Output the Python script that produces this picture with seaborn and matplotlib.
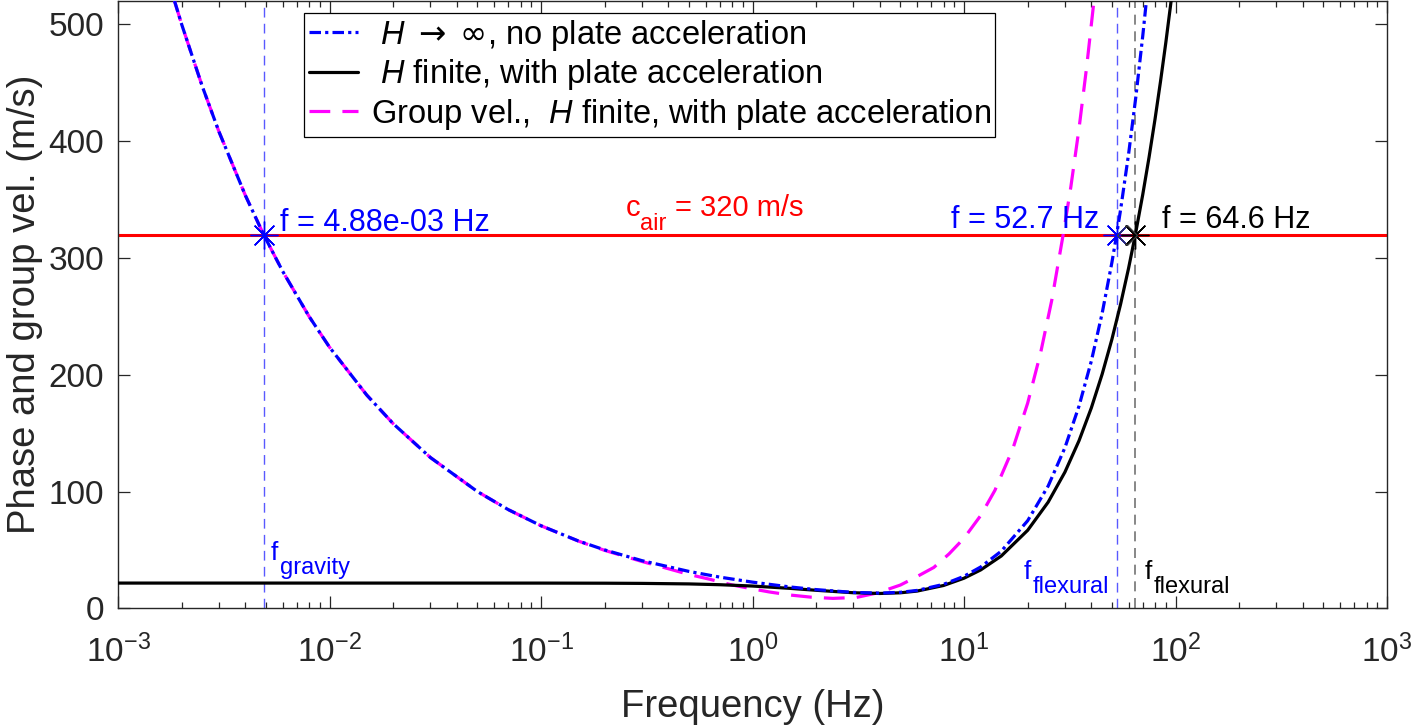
import matplotlib
matplotlib.use('Agg')
import matplotlib.pyplot as plt
import matplotlib.ticker as mticker
from matplotlib.lines import Line2D
import seaborn as sns

###############
# data
###############

# H -> inf, no plate acceleration (phase velocity, m/s)
f_blue = [0.00185, 0.002, 0.0025, 0.003, 0.004, 0.00488, 0.006, 0.008, 0.01, 0.015,
          0.02, 0.03, 0.05, 0.07, 0.1, 0.15, 0.2, 0.3, 0.5, 0.7,
          1, 1.5, 2, 3, 4, 5, 6, 8, 10, 12,
          15, 20, 25, 30, 35, 40, 45, 50, 52.7, 55,
          60, 65, 70, 73]
v_blue = [520, 500, 447.2, 408.2, 353.6, 320, 288.7, 250, 223.6, 182.6,
          158.1, 129.1, 100, 84.5, 70.7, 57.7, 50, 40.8, 31.6, 26.7,
          22.4, 18.3, 16.0, 13.6, 13.0, 13.7, 15.3, 20.5, 27.4, 35.4,
          48.9, 75, 104.7, 137.5, 173.3, 211.7, 252.6, 295.8, 320, 341.3,
          388.9, 438.5, 490.0, 521.8]

# H finite, with plate acceleration
f_black = [0.001, 0.01, 0.1, 0.2, 0.3, 0.5, 0.7, 1, 1.5, 2,
           3, 4, 5, 6, 8, 10, 12, 15, 20, 25,
           30, 35, 40, 45, 50, 55, 60, 64.6, 70, 75,
           80, 85, 90, 96]
v_black = [21.6, 21.6, 21.58, 21.49, 21.33, 20.88, 20.2, 19.06, 17.09, 15.42,
           13.32, 12.70, 13.27, 14.75, 19.52, 25.76, 32.89, 44.76, 66.79, 90.9,
           116.6, 143.6, 171.6, 200.5, 230.1, 260.4, 291.2, 320.0, 354.2, 386.3,
           418.7, 451.5, 484.4, 524.3]

# group velocity, H finite, with plate acceleration
f_group = [0.00185, 0.002, 0.0025, 0.003, 0.004, 0.00488, 0.006, 0.008, 0.01, 0.015,
           0.02, 0.03, 0.05, 0.07, 0.1, 0.15, 0.2, 0.3, 0.4, 0.5,
           0.63, 0.8, 1.0, 1.2, 1.5, 1.9, 2.4, 3.1, 3.9, 5.0,
           6.0, 7.2, 8.5, 10, 12, 14, 17, 20, 23, 26,
           29.44, 32, 35, 38, 41.5]
v_group = [520, 500, 447.2, 408.2, 353.6, 320, 288.7, 250, 223.6, 182.6,
           158.1, 129.1, 100, 84.5, 70.7, 57.6, 49.6, 40.1, 33.9, 29.0,
           24.8, 20.0, 16.6, 14.0, 11.4, 9.5, 8.5, 9.3, 13.2, 19.9,
           27.2, 35.0, 46.6, 60.0, 79.5, 101, 136.4, 175.7, 218.3, 263.8,
           320, 360.8, 411.1, 463.4, 526]

c_air = 320
f_gravity = 4.88e-3
f_flex_inf = 52.7
f_flex_fin = 64.6
f_between = 58.7

x_ticks = [1e-3, 1e-2, 1e-1, 1e0, 1e1, 1e2, 1e3]
y_ticks = [0, 100, 200, 300, 400, 500]

legend_labels = [r' $\mathit{H}\ \mathsf{\rightarrow}\ \mathsf{\infty}$, no plate acceleration',
                 r' $\mathit{H}$ finite, with plate acceleration',
                 r'Group vel.,  $\mathit{H}$ finite, with plate acceleration']

###############
# style
###############
sns.set_theme(style='ticks')
plt.rcParams['font.family'] = ['Liberation Sans', 'DejaVu Sans']
plt.rcParams['mathtext.fontset'] = 'custom'
plt.rcParams['mathtext.rm'] = 'Liberation Sans'
plt.rcParams['mathtext.it'] = 'Liberation Sans:italic'
plt.rcParams['mathtext.bf'] = 'Liberation Sans:bold'
plt.rcParams['mathtext.sf'] = 'DejaVu Sans'
dark = (0.15, 0.15, 0.15)

lw_curve = 2.3
blue_ls = (0, (3.6, 1.3, 1.0, 1.3))
mag_ls = (0, (6.5, 3.8))


def sub_text(ax, x, y, main, sub, color, main_size=19, sub_size=17, dx=6.5, dy=-10):
    # MATLAB style subscript: nearly full size, dropped below the baseline
    ax.text(x, y, main, color=color, fontsize=main_size, va='baseline')
    ax.annotate(sub, (x, y), xytext=(dx, dy), textcoords='offset points',
                color=color, fontsize=sub_size, va='baseline')


fig = plt.figure(figsize=(14.15, 7.28), dpi=100)
ax = fig.add_axes([118 / 1415, (728 - 608.3) / 728, 1269 / 1415, 607.3 / 728])

# reference lines
ax.axhline(c_air, color='red', lw=2.2, zorder=1)
ax.axvline(f_gravity, color=(0.35, 0.35, 1.0), lw=1, ls=(0, (7, 4.5)), zorder=1)
ax.axvline(f_flex_inf, color=(0.35, 0.35, 1.0), lw=1, ls=(0, (7, 4.5)), zorder=1)
ax.axvline(f_flex_fin, color=(0.45, 0.45, 0.45), lw=1.2, ls=(0, (6, 4)), zorder=1)

# curves
sns.lineplot(x=f_group, y=v_group, ax=ax, color='magenta', lw=lw_curve, linestyle=mag_ls,
             errorbar=None, zorder=3)
sns.lineplot(x=f_black, y=v_black, ax=ax, color='black', lw=lw_curve, errorbar=None, zorder=4)
sns.lineplot(x=f_blue, y=v_blue, ax=ax, color='blue', lw=lw_curve, linestyle=blue_ls,
             errorbar=None, zorder=5)

# crossing markers
star = (8, 2, 0)
ax.plot([f_gravity, f_flex_inf], [c_air, c_air], ls='none', marker=star, ms=20,
        mew=1, color='blue', zorder=6)
ax.plot([f_flex_fin], [c_air], ls='none', marker=star, ms=20, mew=1, color='black', zorder=6)
ax.plot([f_between], [c_air], ls='none', marker='D', ms=10, mew=0.9, mfc='none',
        mec=(0.25, 0.25, 0.25), zorder=6)

# annotations
ax.text(5.83e-3, 323, 'f = 4.88e-03 Hz', color='blue', fontsize=22, va='baseline')
ax.text(43.4, 326, 'f = 52.7 Hz', color='blue', fontsize=22, va='baseline', ha='right')
ax.text(86.1, 326, 'f = 64.6 Hz', color='black', fontsize=22, va='baseline')

ax.text(0.252, 336, 'c', color='red', fontsize=21, va='baseline')
ax.annotate('air', (0.252, 336), xytext=(10.4, -10), textcoords='offset points',
            color='red', fontsize=17, va='baseline')
ax.annotate('= 320 m/s', (0.252, 336), xytext=(35.3, 0), textcoords='offset points',
            color='red', fontsize=21, va='baseline')

sub_text(ax, 5.28e-3, 41.4, 'f', 'gravity', 'blue')
sub_text(ax, 19.1, 24.7, 'f', 'flexural', 'blue')
sub_text(ax, 71.8, 24.7, 'f', 'flexural', 'black')

# axes
ax.set_xscale('log')
ax.set_xlim(1e-3, 1e3)
ax.set_ylim(0, 520)
ax.set_yticks(y_ticks)
ax.xaxis.set_major_locator(mticker.FixedLocator(x_ticks))
minor = [m * d for d in x_ticks[:-1] for m in range(2, 10)]
ax.xaxis.set_minor_locator(mticker.FixedLocator(minor))
ax.xaxis.set_major_formatter(mticker.LogFormatterMathtext())
ax.xaxis.set_minor_formatter(mticker.NullFormatter())
ax.tick_params(which='both', direction='in', top=True, right=True, color=dark,
               labelcolor=dark, width=0.9)
ax.tick_params(which='major', length=8.6, labelsize=24)
ax.tick_params(axis='x', which='major', pad=19)
ax.tick_params(axis='y', which='major', pad=10)
ax.tick_params(which='minor', length=4.3)
for sp in ax.spines.values():
    sp.set_visible(True)
    sp.set_color(dark)
    sp.set_linewidth(1.0)

ax.set_xlabel('Frequency (Hz)', fontsize=27.5, color=dark, labelpad=14)
ax.set_ylabel('Phase and group vel. (m/s)', fontsize=27.5, color=dark, labelpad=4)

handles = [Line2D([], [], color='blue', lw=lw_curve, linestyle=blue_ls),
           Line2D([], [], color='black', lw=lw_curve),
           Line2D([], [], color='magenta', lw=lw_curve, linestyle=mag_ls)]
leg = ax.legend(handles, legend_labels, loc='upper left', bbox_to_anchor=(0.1463, 0.9807),
                borderaxespad=0, fontsize=23.5, handlelength=1.5, handletextpad=0.4,
                labelspacing=0.14, borderpad=0.15, fancybox=False, framealpha=1,
                edgecolor='black')
leg.get_frame().set_linewidth(0.9)
for t in leg.get_texts():
    t.set_color('black')

fig.savefig('out.png', dpi=100)
